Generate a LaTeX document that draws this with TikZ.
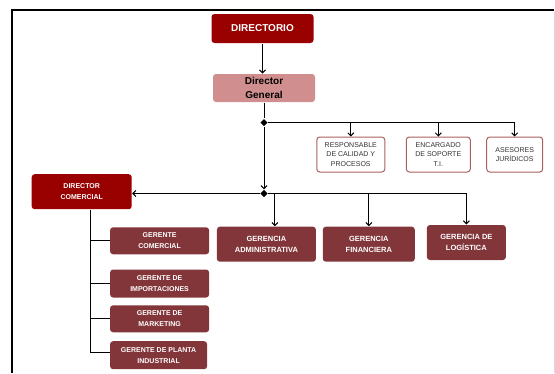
\documentclass[tikz,border=0pt]{standalone}
\usepackage{fontspec}
\setmainfont{Liberation Sans}
\usetikzlibrary{shapes.geometric,arrows.meta}

\definecolor{rojo}{RGB}{153,0,0}
\definecolor{rosa}{RGB}{208,142,142}
\definecolor{vino}{RGB}{130,54,58}
\definecolor{borde}{RGB}{170,95,95}

\tikzset{
  caja/.style={rounded corners=3pt, align=center, inner sep=1pt},
  jefe/.style={caja, fill=rojo, text=white, font=\bfseries\fontsize{10}{14}\selectfont},
  gerente/.style={caja, fill=vino, text=white, font=\bfseries\fontsize{7}{11}\selectfont},
  asesor/.style={caja, draw=borde, fill=white, text=black!80, font=\fontsize{7}{9.5}\selectfont},
  union/.style={diamond, fill=black, inner sep=0pt, minimum size=7.5pt},
  flecha/.style={-{Straight Barb[length=3pt,width=6pt]}},
}

\begin{document}
\begin{tikzpicture}[x=1pt,y=-1pt,line width=1pt]
  \useasboundingbox (0,0) rectangle (555,373);
  % marco
  \draw[line width=2pt] (11.5,373) -- (11.5,9.5) -- (554,9.5);
  \draw[black!15,line width=0.6pt] (554,10.5) -- (554,373);

  % cabeza
  \node[jefe, minimum width=102pt, minimum height=29pt] (dir) at (262.5,28.5) {DIRECTORIO};
  \node[caja, fill=rosa, font=\bfseries\fontsize{10}{14}\selectfont,
        minimum width=102pt, minimum height=28pt] (dg) at (264,88) {Director\\General};
  \node[union] (j1) at (264,122.7) {};
  \node[union] (j2) at (264,193.5) {};

  % asesores
  \node[asesor, minimum width=68pt, minimum height=35pt] (resp) at (350.8,154.5) {RESPONSABLE\\DE CALIDAD Y\\PROCESOS};
  \node[asesor, minimum width=64pt, minimum height=35pt] (enc) at (438.3,154.5) {ENCARGADO\\DE SOPORTE\\T.I.};
  \node[asesor, minimum width=56pt, minimum height=35pt] (ases) at (514.7,154.5) {ASESORES\\JURÍDICOS};

  % gerencias
  \node[jefe, font=\bfseries\fontsize{7}{11}\selectfont, minimum width=100pt, minimum height=35pt] (dc) at (81.7,191.7) {DIRECTOR\\COMERCIAL};
  \node[gerente, font=\bfseries\fontsize{7.5}{11.5}\selectfont, minimum width=99pt, minimum height=35pt] (gadm) at (266.4,244.2) {GERENCIA\\ADMINISTRATIVA};
  \node[gerente, font=\bfseries\fontsize{7.5}{11.5}\selectfont, minimum width=92pt, minimum height=35pt] (gfin) at (368.8,244.2) {GERENCIA\\FINANCIERA};
  \node[gerente, font=\bfseries\fontsize{7.5}{11.5}\selectfont, minimum width=79pt, minimum height=35pt] (glog) at (466.4,242.5) {GERENCIA DE\\LOGÍSTICA};

  % gerentes
  \node[gerente, minimum width=99pt, minimum height=27pt] (gcom) at (159.6,240.8) {GERENTE\\COMERCIAL};
  \node[gerente, minimum width=99pt, minimum height=28pt] (gimp) at (159.6,283.5) {GERENTE DE\\IMPORTACIONES};
  \node[gerente, minimum width=99pt, minimum height=27pt] (gmkt) at (159.6,318.8) {GERENTE DE\\MARKETING};
  \node[gerente, minimum width=97pt, minimum height=28pt] (gpla) at (158.6,355.2) {GERENTE DE PLANTA\\INDUSTRIAL};

  % conectores
  \draw[flecha] (dir.south) -- (dir.south |- dg.north);
  \draw (dg.south) -- (j1);
  \draw[flecha] (j1) -| (ases.north);
  \foreach \n in {resp,enc}
    \draw[flecha] (\n.north |- j1) -- (\n.north);
  \draw[flecha] (j1) -- (j2.north);
  \draw[flecha] (j2) -- (dc.east |- j2);
  \draw[flecha] (j2) -| (glog.north);
  \draw[flecha] ([xshift=8.5pt]gadm.north |- j2) -- ([xshift=8.5pt]gadm.north);
  \draw[flecha] (gfin.north |- j2) -- (gfin.north);

  \coordinate (tronco) at ([xshift=9pt]dc.south);
  \draw (tronco) |- ([yshift=3pt]gpla.west);
  \foreach \n in {gcom,gimp,gmkt}
    \draw (tronco |- \n.west) -- (\n.west);
\end{tikzpicture}
\end{document}
